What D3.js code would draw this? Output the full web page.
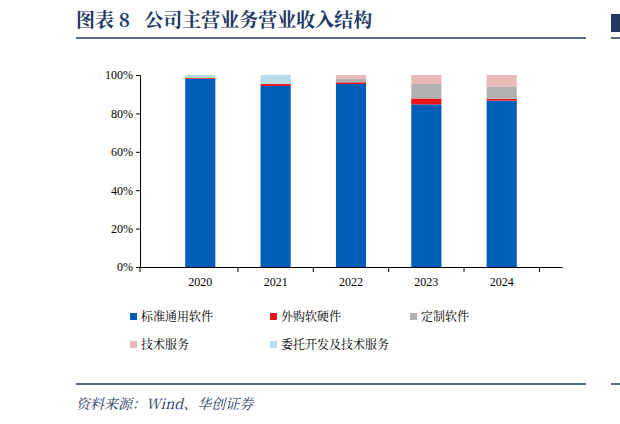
<!DOCTYPE html>
<html><head><meta charset="utf-8">
<script src="https://cdn.jsdelivr.net/npm/d3@7"></script>
<style>body{margin:0;background:#fff}text{font-family:"Noto Serif CJK SC","Noto Sans CJK SC",serif}</style>
</head><body><svg id="c" width="620" height="424"></svg>
<script>
var years = ["2020", "2021", "2022", "2023", "2024"],
    seriesNames = ["标准通用软件", "外购软硬件", "定制软件", "技术服务", "委托开发及技术服务"],
    colors = ["#005eb8", "#e8131b", "#b2b2b2", "#e6b8b7", "#b7dde8"],
    standard = [98.1, 94.3, 95.3, 84.7, 86.7],
    purchased = [0.5, 1.0, 0.9, 3.1, 0.9],
    custom = [0, 0, 1.7, 7.5, 6.2],
    service = [0, 0, 2.1, 4.7, 6.2],
    entrusted = [1.4, 4.7, 0, 0, 0],
    yTicks = [0, 20, 40, 60, 80, 100];

var svg = d3.select("#c"),
    cols = [standard, purchased, custom, service, entrusted];

var rows = years.map(function(y, i) {
    var r = {year: y};
    seriesNames.forEach(function(s, k) { r[s] = cols[k][i]; });
    return r;
});
var stack = d3.stack().keys(seriesNames)(rows);

var x = d3.scaleBand().domain(years).range([140, 562]).padding(0.6),
    y = d3.scaleLinear().domain([0, 100]).range([267, 75]);

// title
svg.append("text").attr("x", 76).attr("y", 27).attr("fill", "#1f3864")
    .attr("font-size", 19).attr("font-weight", "bold").style("white-space", "pre")
    .text("图表\u00a08\u00a0\u00a0\u00a0公司主营业务营业收入结构");
svg.append("line").attr("x1", 76).attr("x2", 586).attr("y1", 38).attr("y2", 38)
    .attr("stroke", "#1f3864").attr("stroke-width", 1.5);
svg.append("rect").attr("x", 611).attr("y", 14).attr("width", 9).attr("height", 18).attr("fill", "#1f3864");
svg.append("line").attr("x1", 611).attr("x2", 620).attr("y1", 38).attr("y2", 38).attr("stroke", "#1f3864").attr("stroke-width", 1.5);

svg.append("g").selectAll("g").data(stack).enter().append("g")
    .attr("fill", function(d, i) { return colors[i]; })
    .selectAll("rect").data(function(d) { return d; }).enter().append("rect")
    .attr("x", function(d) { return x(d.data.year); })
    .attr("width", x.bandwidth())
    .attr("y", function(d) { return y(d[1]); })
    .attr("height", function(d) { return y(d[0]) - y(d[1]); });

var ya = svg.append("g").attr("transform", "translate(140,0)")
    .call(d3.axisLeft(y).tickValues(yTicks).tickSize(4).tickFormat(function(d) { return d + "%"; }));
var xa = svg.append("g").attr("transform", "translate(0,267)")
    .call(d3.axisBottom(x).tickSize(0).tickPadding(10));
xa.selectAll(".tick").append("line").attr("x1", x.step() / 2).attr("x2", x.step() / 2).attr("y2", 5).attr("stroke", "#000");
xa.append("line").attr("x1", 140).attr("x2", 140).attr("y2", 5).attr("stroke", "#000");
[ya, xa].forEach(function(a) {
    a.selectAll("text").attr("font-size", 12).attr("fill", "#000")
        .style("font-family", "'Times New Roman','Liberation Serif',serif");
});

var lx = [130, 270, 410, 130, 270], ly = [317, 317, 317, 345, 345];
var lg = svg.append("g").selectAll("g").data(seriesNames).enter().append("g")
    .attr("transform", function(d, i) { return "translate(" + lx[i] + "," + ly[i] + ")"; });
lg.append("rect").attr("x", 0).attr("y", -4).attr("width", 7).attr("height", 7)
    .attr("fill", function(d, i) { return colors[i]; });
lg.append("text").attr("x", 11).attr("y", 4).attr("font-size", 12).text(function(d) { return d; });

svg.append("line").attr("x1", 76).attr("x2", 586).attr("y1", 384).attr("y2", 384)
    .attr("stroke", "#1f3864").attr("stroke-width", 1.5);
svg.append("line").attr("x1", 611).attr("x2", 620).attr("y1", 384).attr("y2", 384).attr("stroke", "#1f3864").attr("stroke-width", 1.5);
svg.append("text").attr("x", 76).attr("y", 409).attr("font-size", 14).attr("font-style", "italic")
    .attr("fill", "#1f3864").text("资料来源：Wind、华创证券");
</script></body></html>
